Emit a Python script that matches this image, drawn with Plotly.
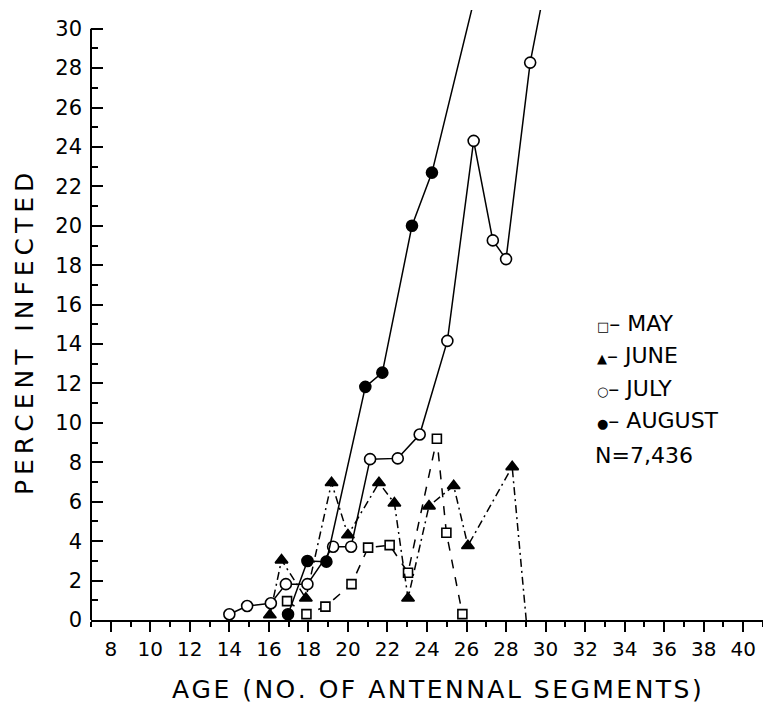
import plotly.graph_objects as go

# ---- data ----
may_x = [16.92, 17.90, 18.86, 20.18, 21.02, 22.11, 23.04, 24.50, 24.98, 25.79]
may_y = [0.96, 0.30, 0.68, 1.82, 3.67, 3.80, 2.40, 9.20, 4.43, 0.30]

june_x = [16.05, 16.64, 17.87, 19.17, 20.00, 21.57, 22.35, 23.04, 24.10, 25.35, 26.07, 28.31, 29.02]
june_y = [0.25, 3.04, 1.10, 6.96, 4.31, 6.96, 5.93, 1.10, 5.78, 6.81, 3.77, 7.77, 0.0]

july_x = [14.00, 14.90, 16.10, 16.86, 17.95, 19.25, 20.16, 21.12, 22.52, 23.63, 25.03, 26.36, 27.33, 28.00, 29.22, 30.00]
july_y = [0.29, 0.71, 0.85, 1.82, 1.82, 3.72, 3.72, 8.16, 8.20, 9.41, 14.16, 24.31, 19.26, 18.31, 28.28, 32.30]

aug_x = [16.97, 17.95, 18.91, 20.88, 21.74, 23.24, 24.25, 27.00]
aug_y = [0.29, 2.99, 2.96, 11.83, 12.55, 20.00, 22.70, 34.00]

x_ticks = list(range(8, 41, 2))
y_ticks = list(range(0, 31, 2))
legend_labels = ["MAY", "JUNE", "JULY", "AUGUST"]
legend_symbols = ["\u25a1", "\u25b2", "\u25cb", "\u25cf"]
n_label = "N=7,436"
x_title = "AGE (NO. OF ANTENNAL SEGMENTS)"
y_title = "PERCENT INFECTED"

Y_TOP = 30
FONT = "DejaVu Sans"


def vis(ys):
    # hide markers for points outside the drawn frame or sitting on the axis end
    return [0 if (v > Y_TOP or v == 0) else 1 for v in ys]


fig = go.Figure()

series = [
    (may_x, may_y, "square", "white", "dash", 9),
    (june_x, june_y, "triangle-up", "black", "8px,4px,2px,4px", 11),
    (july_x, july_y, "circle", "white", "solid", 11),
    (aug_x, aug_y, "circle", "black", "solid", 11),
]
for (xs, ys, sym, fill, dash, sz), name in zip(series, legend_labels):
    fig.add_trace(go.Scatter(
        x=xs, y=ys, mode="lines+markers", name=name,
        line=dict(color="black", width=1.5, dash=dash),
        marker=dict(symbol=sym, size=sz, color=fill, opacity=vis(ys),
                    line=dict(color="black", width=1.6)),
        cliponaxis=False, showlegend=False,
    ))

fig.update_layout(
    width=763, height=704,
    margin=dict(l=91, r=0, t=10, b=84),
    paper_bgcolor="white", plot_bgcolor="white",
    font=dict(family=FONT, color="black"),
    xaxis=dict(
        range=[7, 41], tickmode="array", tickvals=x_ticks,
        ticktext=[str(v) for v in x_ticks],
        ticks="outside", ticklen=10, tickwidth=1.5, tickcolor="black",
        showline=True, linewidth=2, linecolor="black",
        showgrid=False, zeroline=False,
        tickfont=dict(size=20, family=FONT),
        minor=dict(tickmode="linear", tick0=1, dtick=2, ticks="outside",
                   ticklen=5, tickwidth=1.5, tickcolor="black", showgrid=False),
    ),
    yaxis=dict(
        range=[0, 30.95], tickmode="array", tickvals=y_ticks,
        ticktext=[str(v) for v in y_ticks],
        ticks="inside", ticklen=12, tickwidth=1.5, tickcolor="black",
        showline=False, showgrid=False, zeroline=False,
        tickfont=dict(size=21, family=FONT),
        ticklabelstandoff=8,
        minor=dict(tickmode="linear", tick0=1, dtick=2, ticks="inside",
                   ticklen=7, tickwidth=1.5, tickcolor="black", showgrid=False),
    ),
)

# y axis line ends at 30
fig.add_shape(type="line", xref="paper", yref="y", x0=0, x1=0, y0=0, y1=Y_TOP,
              line=dict(color="black", width=2))

# axis titles
fig.add_annotation(text="\u200a".join(x_title), xref="paper", yref="paper",
                   x=(437 - 91) / 672, y=-(690 - 620) / 610, xanchor="center", yanchor="middle",
                   showarrow=False, font=dict(size=25, family=FONT))
fig.add_annotation(text="\u2009".join(y_title), xref="paper", yref="paper",
                   x=-(91 - 24) / 672, y=(620 - 334) / 610, xanchor="center", yanchor="middle",
                   textangle=-90, showarrow=False, font=dict(size=25, family=FONT))

# legend as text
leg_y = [323, 355, 388, 420]
for lab, sym, py in zip(legend_labels, legend_symbols, leg_y):
    fig.add_annotation(
        text=f"<span style='font-size:13px'>{sym}</span>\u2013 {lab}",
        xref="paper", yref="paper", x=(595 - 91) / 672, y=(620 - py) / 610,
        xanchor="left", yanchor="middle", showarrow=False, font=dict(size=22, family=FONT))
fig.add_annotation(text=n_label, xref="paper", yref="paper", x=(593 - 91) / 672,
                   y=(620 - 455) / 610, xanchor="left", yanchor="middle",
                   showarrow=False, font=dict(size=22, family=FONT))

fig.write_html("out.html")
